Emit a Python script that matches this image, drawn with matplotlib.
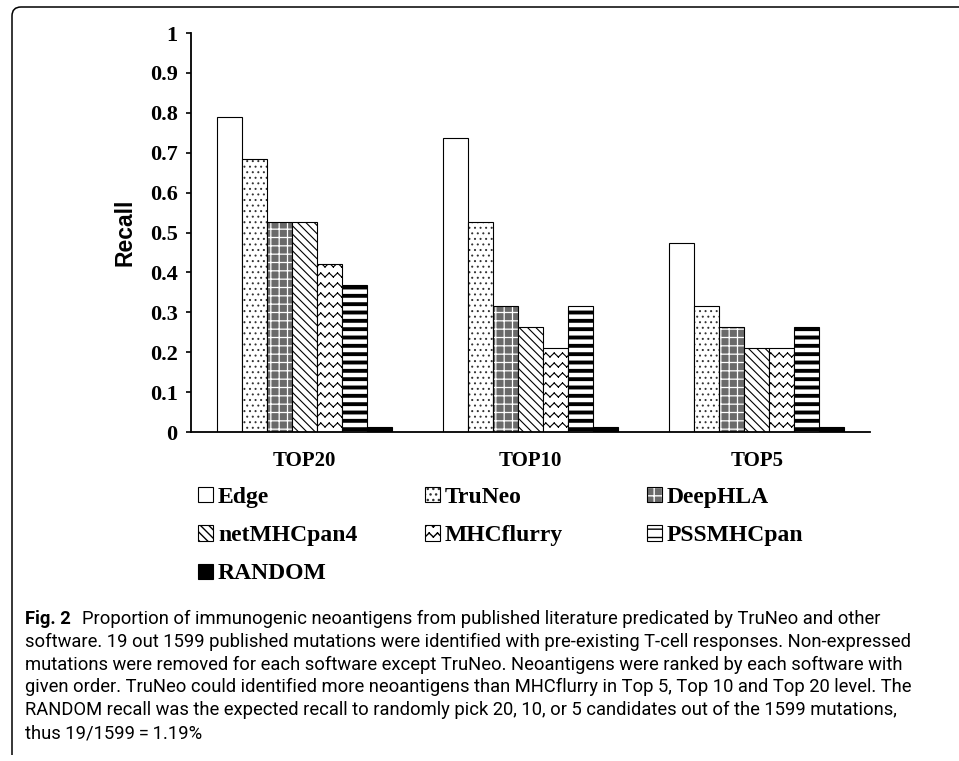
"""Fig. 2 — recall of immunogenic neoantigens for TOP20 / TOP10 / TOP5 picks."""

import numpy as np
import matplotlib

matplotlib.use("Agg")
import matplotlib.pyplot as plt
import matplotlib.hatch as mhatch
from matplotlib.path import Path
from matplotlib.patches import PathPatch
from matplotlib.transforms import IdentityTransform

CATEGORIES = ["TOP20", "TOP10", "TOP5"]
SOFTWARE = ["Edge", "TruNeo", "DeepHLA", "netMHCpan4", "MHCflurry", "PSSMHCpan", "RANDOM"]

EDGE = [0.789, 0.737, 0.474]
TRUNEO = [0.684, 0.526, 0.316]
DEEPHLA = [0.526, 0.316, 0.263]
NETMHCPAN4 = [0.526, 0.263, 0.211]
MHCFLURRY = [0.421, 0.211, 0.211]
PSSMHCPAN = [0.368, 0.316, 0.263]
RANDOM = [0.0119, 0.0119, 0.0119]

YTICKS = [0, 0.1, 0.2, 0.3, 0.4, 0.5, 0.6, 0.7, 0.8, 0.9, 1]
YTICK_LABELS = ["0", "0.1", "0.2", "0.3", "0.4", "0.5", "0.6", "0.7", "0.8", "0.9", "1"]

CAPTION_HEAD = "Fig. 2"
CAPTION_LINES = [
    "Proportion of immunogenic neoantigens from published literature predicated by TruNeo and other",
    "software. 19 out 1599 published mutations were identified with pre-existing T-cell responses. Non-expressed",
    "mutations were removed for each software except TruNeo. Neoantigens were ranked by each software with",
    "given order. TruNeo could identified more neoantigens than MHCflurry in Top 5, Top 10 and Top 20 level. The",
    "RANDOM recall was the expected recall to randomly pick 20, 10, or 5 candidates out of the 1599 mutations,",
    "thus 19/1599\u2009=\u20091.19%",
]

SERIES = [EDGE, TRUNEO, DEEPHLA, NETMHCPAN4, MHCFLURRY, PSSMHCPAN, RANDOM]

# face colour, hatch, hatch colour, hatch line width
STYLES = {
    "Edge": ("white", None, "black", 1.0),
    "TruNeo": ("white", "...", "#333333", 0.7),
    "DeepHLA": ("#6a6a6a", "++", "white", 0.9),
    "netMHCpan4": ("white", "\\\\\\\\", "black", 0.8),
    "MHCflurry": ("white", "**", "black", 0.8),
    "PSSMHCpan": ("white", "--", "black", 2.8),
    "RANDOM": ("black", None, "black", 1.0),
}


class WaveHatch(mhatch.HatchPatternBase):
    """Rows of small zigzags, used in place of the star hatch ('*')."""

    def __init__(self, hatch, density):
        self.num_rows = int(hatch.count("*") * 5)
        self.teeth = 24
        self.num_vertices = self.num_rows * self.teeth * 2

    def set_vertices_and_codes(self, vertices, codes):
        ys = np.linspace(0.0, 1.0, self.num_rows, endpoint=False) + 0.5 / self.num_rows
        xs = np.linspace(0.0, 1.0, self.teeth + 1)
        offs = np.where(np.arange(self.teeth + 1) % 2 == 0, -0.02, 0.02)
        k = 0
        for y in ys:
            for j in range(self.teeth):
                vertices[k] = (xs[j], y + offs[j])
                vertices[k + 1] = (xs[j + 1], y + offs[j + 1])
                codes[k] = Path.MOVETO
                codes[k + 1] = Path.LINETO
                k += 2


mhatch._hatch_types = [
    WaveHatch if t.__name__ == "Stars" else t for t in mhatch._hatch_types
]

SERIF = ["Liberation Serif", "DejaVu Serif"]
SANS = ["Liberation Sans", "DejaVu Sans"]
CAPTION_FONT = ["Roboto", "DejaVu Sans"]

fig = plt.figure(figsize=(9.59, 7.61), dpi=100)
ax = fig.add_axes([191 / 959, 1 - 432 / 761, 679 / 959, 399 / 761])

x = np.arange(len(CATEGORIES))
w = 0.1106
handles = []
for i, (name, vals) in enumerate(zip(SOFTWARE, SERIES)):
    fc, hatch, hc, hlw = STYLES[name]
    bars = ax.bar(
        x + (i - 3) * w,
        vals,
        width=w,
        color=fc,
        edgecolor="black",
        linewidth=0.8,
        hatch=hatch,
        label=name,
    )
    for p in bars:
        p._hatch_color = matplotlib.colors.to_rgba(hc)
        if hasattr(p, "set_hatch_linewidth"):
            p.set_hatch_linewidth(hlw)
    handles.append(bars)

ax.set_xlim(-0.5, 2.5)
ax.set_ylim(0, 1)
ax.set_yticks(YTICKS)
ax.set_yticklabels(YTICK_LABELS, fontfamily=SERIF, fontweight="bold", fontsize=16)
ax.set_xticks(x)
ax.set_xticklabels(CATEGORIES, fontfamily=SERIF, fontweight="bold", fontsize=15)
ax.tick_params(axis="y", direction="out", length=3.6, width=1.2, pad=6)
ax.tick_params(axis="x", length=0, pad=14)
for side in ("top", "right"):
    ax.spines[side].set_visible(False)
for side in ("left", "bottom"):
    ax.spines[side].set_linewidth(1.3)
ax.set_ylabel("Recall", fontfamily=SANS, fontweight="bold", fontsize=16.5)
ax.yaxis.set_label_coords(-0.08, 0.5)

# legend filled row by row, one legend per column
col_x = [198, 425, 647]
for c in range(3):
    hs = handles[c::3]
    fig.legend(
        hs,
        [h.get_label() for h in hs],
        loc="upper left",
        bbox_to_anchor=(col_x[c] / 959, 1 - 487 / 761),
        frameon=False,
        borderpad=0,
        borderaxespad=0,
        handlelength=0.62,
        handleheight=0.62,
        handletextpad=0.22,
        labelspacing=0.73,
        prop={"family": SERIF, "weight": "bold", "size": 17},
    )

# caption
base = [624 + 22.8 * k for k in range(len(CAPTION_LINES))]
head = fig.text(
    25 / 959, 1 - base[0] / 761, CAPTION_HEAD,
    fontfamily=CAPTION_FONT, fontweight="bold", fontsize=13.2, va="baseline",
)
ax.annotate(
    CAPTION_LINES[0], xy=(1, 0), xycoords=head, xytext=(8, 0),
    textcoords="offset points", va="bottom", ha="left",
    fontfamily=CAPTION_FONT, fontsize=13.2, annotation_clip=False,
)
for k in range(1, len(CAPTION_LINES)):
    fig.text(
        25 / 959, 1 - base[k] / 761, CAPTION_LINES[k],
        fontfamily=CAPTION_FONT, fontsize=13.2, va="baseline",
    )

# open frame: left and top edges with a rounded corner
r = 9
H = 761
frame = Path(
    [(12, H - 755), (12, H - 7 - r), (12, H - 7), (12 + r, H - 7), (975, H - 7)],
    [Path.MOVETO, Path.LINETO, Path.CURVE3, Path.CURVE3, Path.LINETO],
)
fig.add_artist(PathPatch(frame, fill=False, lw=1.1, edgecolor="black",
                         transform=IdentityTransform()))

fig.savefig("out.png", dpi=100)
